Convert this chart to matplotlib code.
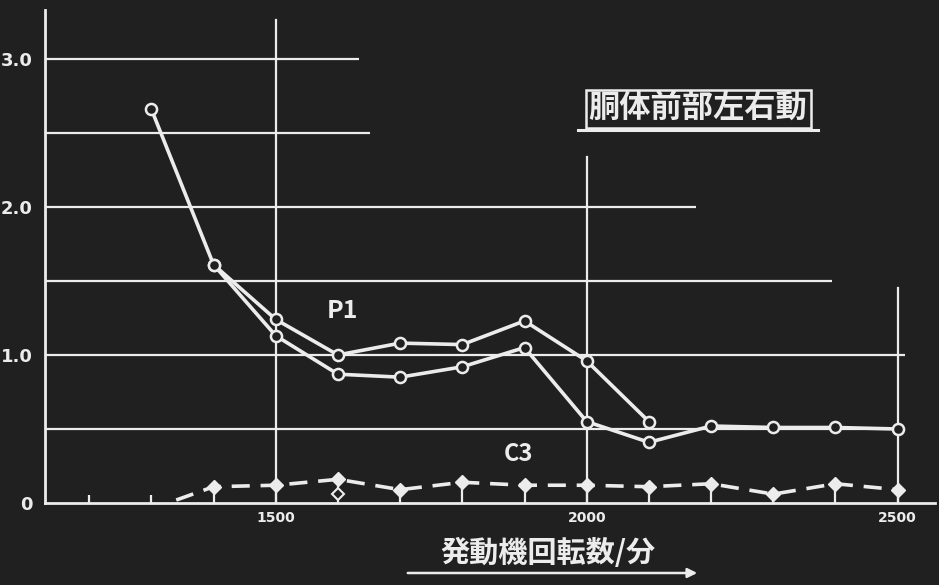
import matplotlib
matplotlib.use("Agg")
import matplotlib.pyplot as plt
from matplotlib.lines import Line2D
from matplotlib.patches import FancyArrowPatch

# ---- data ----
rpm_upper = [1300, 1400, 1500, 1600, 1700, 1800, 1900, 2000, 2100]
p1_upper = [2.66, 1.61, 1.24, 1.00, 1.08, 1.07, 1.23, 0.96, 0.55]

rpm_lower = [1400, 1500, 1600, 1700, 1800, 1900, 2000, 2100, 2200, 2300, 2400, 2500]
p1_lower = [1.61, 1.13, 0.87, 0.85, 0.92, 1.05, 0.55, 0.41, 0.52, 0.51, 0.51, 0.50]

rpm_c3 = [1340, 1400, 1500, 1600, 1700, 1800, 1900, 2000, 2100, 2200, 2300, 2400, 2500]
c3 = [0.02, 0.11, 0.12, 0.16, 0.09, 0.14, 0.12, 0.12, 0.11, 0.13, 0.06, 0.13, 0.09]
rpm_c3_extra = [1600]
c3_extra = [0.06]

y_ticks = [0, 1.0, 2.0, 3.0]
y_tick_labels = ["0", "1.0", "2.0", "3.0"]
x_ticks = [1500, 2000, 2500]
x_tick_labels = ["1500", "2000", "2500"]
x_minor = [1200, 1300]

h_grid = [0.5, 1.0, 1.5, 2.0, 2.5, 3.0]
h_grid_end = [2511, 2511, 2394, 2175, 1651, 1634]
v_grid = [1500, 2000, 2500]
v_grid_top = [3.26, 2.34, 1.45]

title = "胴体前部左右動"
xlabel = "発動機回転数/分"
label_p1 = "P1"
label_c3 = "C3"

# ---- style ----
BG = "#202020"
FG = "#ececec"
cjk = ["Noto Sans CJK JP", "DejaVu Sans"]

W, H = 939, 585
fig = plt.figure(figsize=(W / 100, H / 100), dpi=100, facecolor=BG)
ax = fig.add_axes([45 / W, 1 - 503 / H, 890 / W, 493 / H], facecolor=BG)
ax.set_xlim(1129, 2560)
ax.set_ylim(0, 3.33)

for s in ["top", "right"]:
    ax.spines[s].set_visible(False)
for s in ["left", "bottom"]:
    ax.spines[s].set_color(FG)
    ax.spines[s].set_linewidth(2.0)

# grid lines with individual extents
for yv, xe in zip(h_grid, h_grid_end):
    ax.plot([1129, xe], [yv, yv], color=FG, lw=1.6, zorder=1, solid_capstyle="butt")
for xv, yt in zip(v_grid, v_grid_top):
    ax.plot([xv, xv], [0, yt], color=FG, lw=1.6, zorder=1)

# P1 series
ax.plot(rpm_upper, p1_upper, color=FG, lw=2.6, marker="o", ms=8,
        mfc=BG, mec=FG, mew=1.8, zorder=4)
ax.plot(rpm_lower, p1_lower, color=FG, lw=2.6, marker="o", ms=8,
        mfc=BG, mec=FG, mew=1.8, zorder=4)

# C3 series (dashed, diamonds with stems)
ax.plot(rpm_c3, c3, color=FG, lw=2.6, ls=(0, (5, 3)), zorder=3)
ax.plot(rpm_c3[1:], c3[1:], ls="none", marker="D", ms=7, mfc=FG, mec=FG, zorder=4)
ax.vlines(rpm_c3[1:], 0, c3[1:], color=FG, lw=1.6, zorder=2)
ax.plot(rpm_c3_extra, c3_extra, ls="none", marker="D", ms=6, mfc=BG, mec=FG, mew=1.5, zorder=4)

# ticks
ax.set_yticks(y_ticks)
ax.set_yticklabels(y_tick_labels)
ax.set_xticks(x_ticks)
ax.set_xticklabels(x_tick_labels)
ax.set_xticks(x_minor, minor=True)
ax.tick_params(axis="y", length=0, pad=9, labelsize=13, labelcolor=FG)
ax.tick_params(axis="x", which="major", length=0, pad=6, labelsize=10, labelcolor=FG)
ax.tick_params(axis="x", which="minor", direction="in", length=6, width=1.6, color=FG)
for t in ax.get_yticklabels() + ax.get_xticklabels():
    t.set_fontweight("bold")

# labels
ax.text(1608, 1.30, label_p1, color=FG, fontsize=18, fontweight="bold",
        ha="center", va="center", family=cjk)
ax.text(1890, 0.33, label_c3, color=FG, fontsize=17, fontweight="bold",
        ha="center", va="center", family=cjk)

# title box
fig.text(698 / W, 1 - 109 / H, title, color=FG, fontsize=22.5, fontweight="bold",
         ha="center", va="center", family=cjk,
         bbox=dict(boxstyle="square,pad=0.1", fc=BG, ec=FG, lw=1.8))
fig.add_artist(Line2D([578 / W, 818 / W], [1 - 130 / H, 1 - 130 / H],
                      color=FG, lw=2.2, transform=fig.transFigure))

# x label with arrow
fig.text(548 / W, 1 - 553 / H, xlabel, color=FG, fontsize=21, fontweight="bold",
         ha="center", va="center", family=cjk)
fig.add_artist(FancyArrowPatch((405 / W, 1 - 573 / H), (700 / W, 1 - 573 / H),
                               transform=fig.transFigure, arrowstyle="-|>",
                               mutation_scale=14, color=FG, lw=1.8))

fig.savefig("out.png", dpi=100, facecolor=BG)
